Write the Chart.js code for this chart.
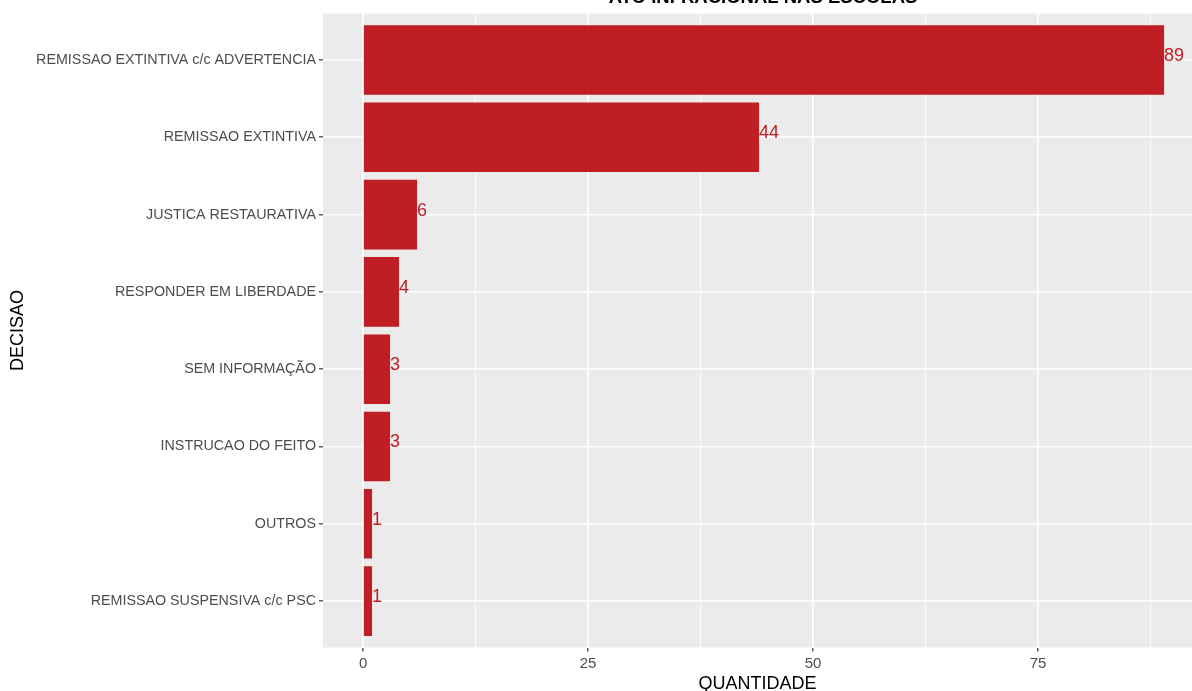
<!DOCTYPE html>
<html>
<head>
<meta charset="utf-8">
<script src="https://cdn.jsdelivr.net/npm/chart.js@4"></script>
<style>
  html, body { margin: 0; padding: 0; background: #fff; }
  #wrap { width: 1192px; height: 691px; }
</style>
</head>
<body>
<div id="wrap"><canvas id="myChart"></canvas></div>
<script>
// Data
const decisoes = [
  "REMISSAO EXTINTIVA c/c ADVERTENCIA",
  "REMISSAO EXTINTIVA",
  "JUSTICA RESTAURATIVA",
  "RESPONDER EM LIBERDADE",
  "SEM INFORMAÇÃO",
  "INSTRUCAO DO FEITO",
  "OUTROS",
  "REMISSAO SUSPENSIVA c/c PSC"
];
const quantidade = [89, 44, 6, 4, 3, 3, 1, 1];
const xTicks = [0, 12.5, 25, 37.5, 50, 62.5, 75, 87.5];
const chartTitle = "ATO INFRACIONAL NAS ESCOLAS";

const barColor = "#BE1E24";
const fontFam = "'Liberation Sans', Arial, sans-serif";

// panel background + title + value labels
const ggPlugin = {
  id: "gg",
  beforeDraw(chart) {
    const { ctx, chartArea: a } = chart;
    ctx.save();
    ctx.fillStyle = "#EBEBEB";
    ctx.fillRect(a.left, a.top, a.right - a.left, a.bottom - a.top);
    ctx.restore();
  },
  afterDraw(chart) {
    const { ctx } = chart;
    ctx.save();
    ctx.fillStyle = "#000";
    ctx.font = "bold 18.5px " + fontFam;
    ctx.textAlign = "center";
    ctx.textBaseline = "alphabetic";
    ctx.fillText(chartTitle, 763, 3);

    const meta = chart.getDatasetMeta(0);
    ctx.fillStyle = barColor;
    ctx.font = "18px " + fontFam;
    ctx.textAlign = "left";
    ctx.textBaseline = "middle";
    meta.data.forEach((bar, i) => {
      ctx.fillText(String(quantidade[i]), bar.x, bar.y - 4);
    });
    ctx.restore();
  }
};

const data = {
  datasets: [{
    data: quantidade.map((v, i) => ({ x: v, y: i })),
    backgroundColor: barColor,
    borderWidth: 0,
    categoryPercentage: 0.9,
    barPercentage: 1.0
  }]
};

const options = {
  indexAxis: "y",
  responsive: true,
  maintainAspectRatio: false,
  animation: false,
  layout: { padding: { top: 13.6, right: 0, left: 0, bottom: 0 } },
  plugins: {
    legend: { display: false },
    tooltip: { enabled: false }
  },
  scales: {
    x: {
      type: "linear",
      min: -4.45,
      max: 92.1,
      afterBuildTicks(scale) {
        scale.ticks = xTicks.map(v => ({ value: v }));
      },
      afterFit(scale) { scale.height = 43.5; },
      border: { display: false },
      grid: {
        color: "#FFFFFF",
        lineWidth: ctx => (ctx.tick && ctx.tick.value % 25 === 0 ? 1.6 : 0.8),
        drawTicks: true,
        tickLength: 4,
        tickWidth: 1.2,
        tickColor: ctx => (ctx.tick && ctx.tick.value % 25 === 0 ? "#333333" : "rgba(0,0,0,0)")
      },
      ticks: {
        color: "#4D4D4D",
        font: { family: fontFam, size: 15 },
        padding: 3,
        maxRotation: 0,
        autoSkip: false,
        callback: v => (v % 25 === 0 ? String(v) : "")
      },
      title: {
        display: true,
        text: "QUANTIDADE",
        color: "#000",
        font: { family: fontFam, size: 18, lineHeight: 1 },
        padding: { top: 0, bottom: -2 }
      }
    },
    y: {
      type: "linear",
      reverse: true,
      min: -0.6,
      max: 7.6,
      offset: false,
      afterBuildTicks(scale) {
        scale.ticks = decisoes.map((d, i) => ({ value: i }));
      },
      afterFit(scale) { scale.width = 323; },
      border: { display: false },
      grid: {
        offset: false,
        color: "#FFFFFF",
        lineWidth: 1.6,
        tickLength: 4,
        tickWidth: 1.2,
        tickColor: "#333333"
      },
      ticks: {
        color: "#4D4D4D",
        font: { family: fontFam, size: 14.3 },
        padding: 3,
        autoSkip: false,
        callback: v => decisoes[v] ?? ""
      },
      title: {
        display: true,
        text: "DECISAO",
        color: "#000",
        font: { family: fontFam, size: 18, lineHeight: 1 },
        padding: { top: 9, bottom: 0 }
      }
    }
  }
};

const config = {
  type: "bar",
  data,
  options,
  plugins: [ggPlugin]
};

const myChart = new Chart(document.getElementById("myChart"), config);
</script>
</body>
</html>
